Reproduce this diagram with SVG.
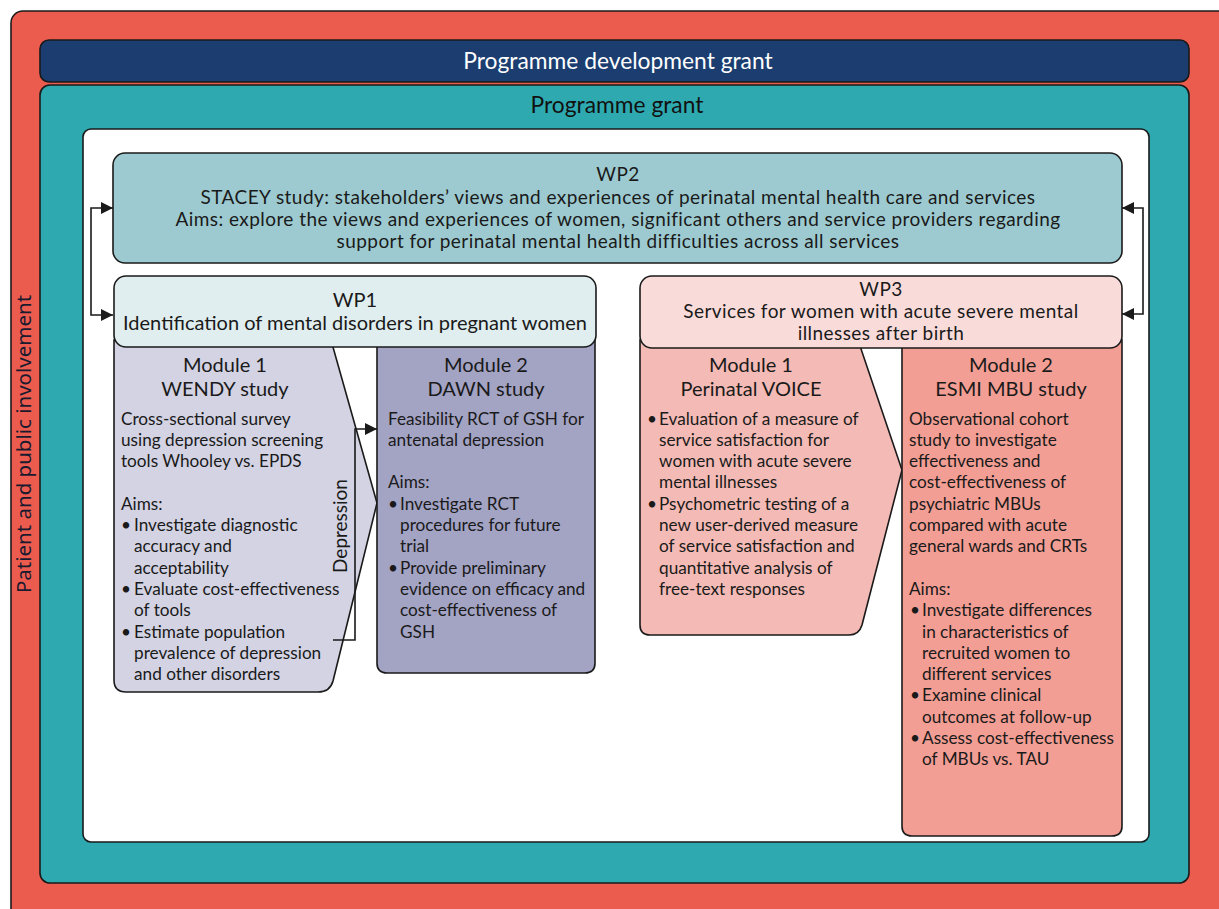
<svg xmlns="http://www.w3.org/2000/svg" width="1219" height="909" viewBox="0 0 1219 909">
<style>
.box{stroke:#1a1a1a;stroke-width:1.6}
.t{font-family:Lato,"Liberation Sans",sans-serif;fill:#1a1a1a}
.h{font-size:20px;text-anchor:middle}
.hs{font-size:19px;letter-spacing:0.44px;text-anchor:middle}
.b{font-size:17.2px}
.big{font-family:Lato,"Liberation Sans",sans-serif;font-size:22.8px;text-anchor:middle}
.conn{fill:none;stroke:#1a1a1a;stroke-width:1.6}
</style>
<defs>
<marker id="ah" viewBox="0 0 10 10" refX="10" refY="5" markerWidth="14" markerHeight="12" markerUnits="userSpaceOnUse" orient="auto-start-reverse">
<path d="M0,0 L10,5 L0,10 z" fill="#1a1a1a"/>
</marker>
</defs>

<g id="ppi">
<rect class="box" x="11" y="11" width="1230" height="920" rx="12" fill="#EB5C4F"/>
<text transform="translate(31,444) rotate(-90)" text-anchor="middle" font-family="'Noto Sans','Open Sans',sans-serif" font-size="20.5" fill="#1a1a2e">Patient and public involvement</text>
</g>

<g id="pdg">
<rect class="box" x="40" y="40" width="1149" height="42" rx="9" fill="#1B3D70"/>
<text class="big" x="618" y="69" fill="#ffffff">Programme development grant</text>
</g>

<g id="pg">
<rect class="box" x="40" y="85" width="1149" height="798" rx="10" fill="#2EA9B0"/>
<text class="big" x="617" y="113" fill="#111111">Programme grant</text>
</g>

<g id="inner">
<rect class="box" x="83" y="129" width="1066" height="713" rx="8" fill="#ffffff"/>
</g>

<g id="wp2">
<rect class="box" x="113" y="153" width="1009" height="110" rx="12" fill="#9DCAD0"/>
<text class="t hs"><tspan x="618" y="181">WP2</tspan><tspan x="618" y="204">STACEY study: stakeholders’ views and experiences of perinatal mental health care and services</tspan><tspan x="618" y="226">Aims: explore the views and experiences of women, significant others and service providers regarding</tspan><tspan x="618" y="248">support for perinatal mental health difficulties across all services</tspan></text>
</g>

<g id="wendy">
<path class="box" d="M114,340 L331,340 L377,503 L333,681 Q330,692 318,692 L126,692 Q114,692 114,680 Z" fill="#D3D3E3"/>
<text class="t h"><tspan x="225" y="372">Module 1</tspan><tspan x="225" y="396">WENDY study</tspan></text>
<text class="t b"><tspan x="121" y="424.5">Cross-sectional survey</tspan><tspan x="121" y="445.8">using depression screening</tspan><tspan x="121" y="467.1">tools Whooley vs. EPDS</tspan><tspan x="121" y="509.7">Aims:</tspan><tspan x="121" y="531">•</tspan><tspan x="134" y="531">Investigate diagnostic</tspan><tspan x="134" y="552.3">accuracy and</tspan><tspan x="134" y="573.6">acceptability</tspan><tspan x="121" y="594.9">•</tspan><tspan x="134" y="594.9">Evaluate cost-effectiveness</tspan><tspan x="134" y="616.2">of tools</tspan><tspan x="121" y="637.5">•</tspan><tspan x="134" y="637.5">Estimate population</tspan><tspan x="134" y="658.8">prevalence of depression</tspan><tspan x="134" y="680.1">and other disorders</tspan></text>
</g>

<g id="dawn">
<path class="box" d="M377,340 L595,340 L595,663 Q595,673 585,673 L387,673 Q377,673 377,663 Z" fill="#A3A3C4"/>
<text class="t h"><tspan x="486" y="372">Module 2</tspan><tspan x="486" y="396">DAWN study</tspan></text>
<text class="t b"><tspan x="388" y="424.5">Feasibility RCT of GSH for</tspan><tspan x="388" y="445.8">antenatal depression</tspan><tspan x="388" y="488.4">Aims:</tspan><tspan x="388" y="509.7">•</tspan><tspan x="400" y="509.7">Investigate RCT</tspan><tspan x="400" y="531">procedures for future</tspan><tspan x="400" y="552.3">trial</tspan><tspan x="388" y="573.6">•</tspan><tspan x="400" y="573.6">Provide preliminary</tspan><tspan x="400" y="594.9">evidence on efficacy and</tspan><tspan x="400" y="616.2">cost-effectiveness of</tspan><tspan x="400" y="637.5">GSH</tspan></text>
</g>

<g id="wp1">
<rect class="box" x="114" y="276" width="482" height="71" rx="12" fill="#E0EEEF"/>
<text class="t h"><tspan x="355" y="307">WP1</tspan><tspan x="355" y="330">Identification of mental disorders in pregnant women</tspan></text>
</g>

<g id="voice">
<path class="box" d="M640,340 L858,340 L902,470 L862,625 Q859,635 849,635 L650,635 Q640,635 640,625 Z" fill="#F4BAB5"/>
<text class="t h"><tspan x="751" y="372">Module 1</tspan><tspan x="751" y="396">Perinatal VOICE</tspan></text>
<text class="t b"><tspan x="647" y="424.5">•</tspan><tspan x="659" y="424.5">Evaluation of a measure of</tspan><tspan x="659" y="445.8">service satisfaction for</tspan><tspan x="659" y="467.1">women with acute severe</tspan><tspan x="659" y="488.4">mental illnesses</tspan><tspan x="647" y="509.7">•</tspan><tspan x="659" y="509.7">Psychometric testing of a</tspan><tspan x="659" y="531">new user-derived measure</tspan><tspan x="659" y="552.3">of service satisfaction and</tspan><tspan x="659" y="573.6">quantitative analysis of</tspan><tspan x="659" y="594.9">free-text responses</tspan></text>
</g>

<g id="esmi">
<path class="box" d="M902,340 L1122,340 L1122,826 Q1122,836 1112,836 L912,836 Q902,836 902,826 Z" fill="#F29E94"/>
<text class="t h"><tspan x="1011" y="372">Module 2</tspan><tspan x="1011" y="396">ESMI MBU study</tspan></text>
<text class="t b"><tspan x="909" y="424.5">Observational cohort</tspan><tspan x="909" y="445.8">study to investigate</tspan><tspan x="909" y="467.1">effectiveness and</tspan><tspan x="909" y="488.4">cost-effectiveness of</tspan><tspan x="909" y="509.7">psychiatric MBUs</tspan><tspan x="909" y="531">compared with acute</tspan><tspan x="909" y="552.3">general wards and CRTs</tspan><tspan x="909" y="594.9">Aims:</tspan><tspan x="910" y="616.2">•</tspan><tspan x="922" y="616.2">Investigate differences</tspan><tspan x="922" y="637.5">in characteristics of</tspan><tspan x="922" y="658.8">recruited women to</tspan><tspan x="922" y="680.1">different services</tspan><tspan x="910" y="701.4">•</tspan><tspan x="922" y="701.4">Examine clinical</tspan><tspan x="922" y="722.7">outcomes at follow-up</tspan><tspan x="910" y="744">•</tspan><tspan x="922" y="744">Assess cost-effectiveness</tspan><tspan x="922" y="765.3">of MBUs vs. TAU</tspan></text>
</g>

<g id="wp3">
<rect class="box" x="640" y="276" width="482" height="72" rx="12" fill="#F9DCDA"/>
<text class="t hs"><tspan x="881" y="296">WP3</tspan><tspan x="881" y="318">Services for women with acute severe mental</tspan><tspan x="881" y="340">illnesses after birth</tspan></text>
</g>

<g id="connectors">
<path class="conn" d="M113,208 H91 V315 H113" marker-start="url(#ah)" marker-end="url(#ah)"/>
<path class="conn" d="M1122,208 H1143 V314 H1122" marker-start="url(#ah)" marker-end="url(#ah)"/>
<path class="conn" d="M333,640 H355 V429 H377" marker-end="url(#ah)"/>
<text class="t" transform="translate(347,526) rotate(-90)" text-anchor="middle" font-size="19">Depression</text>
</g>
</svg>
